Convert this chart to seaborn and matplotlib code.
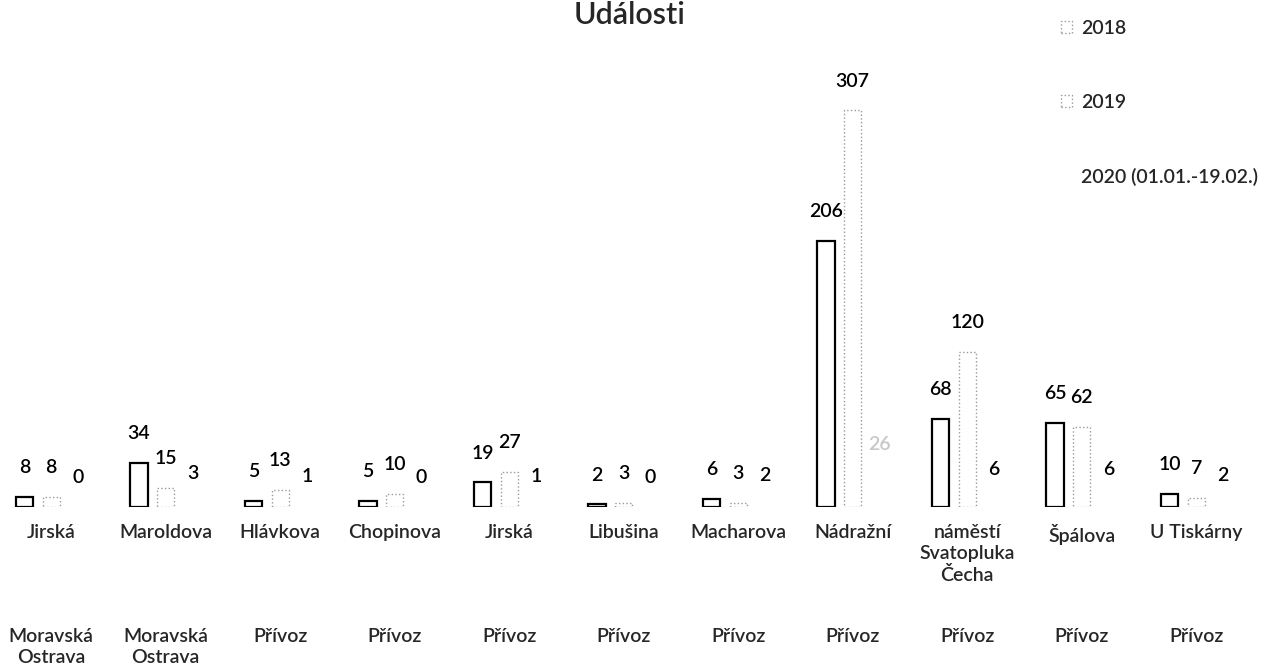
import matplotlib
matplotlib.use("Agg")
import matplotlib.pyplot as plt
from matplotlib.patches import Patch
import pandas as pd
import seaborn as sns

# data
ulice = ["Jirská", "Maroldova", "Hlávkova", "Chopinova", "Jirská", "Libušina",
         "Macharova", "Nádražní", "náměstí\nSvatopluka\nČecha", "Špálova", "U Tiskárny"]
oblast = ["Moravská\nOstrava", "Moravská\nOstrava", "Přívoz", "Přívoz", "Přívoz", "Přívoz",
          "Přívoz", "Přívoz", "Přívoz", "Přívoz", "Přívoz"]
roky = ["2018", "2019", "2020 (01.01.-19.02.)"]
v2018 = [8, 34, 5, 5, 19, 2, 6, 206, 68, 65, 10]
v2019 = [8, 15, 13, 10, 27, 3, 3, 307, 120, 62, 7]
v2020 = [0, 3, 1, 0, 1, 0, 2, 26, 6, 6, 2]   # Nádražní 2020 unreadable, estimated

rows = []
for rok, vals in zip(roky, [v2018, v2019, v2020]):
    for i, v in enumerate(vals):
        rows.append({"idx": i, "rok": rok, "pocet": v})
df = pd.DataFrame(rows)

sns.set_theme(style="white")
plt.rcParams["font.family"] = ["Lato", "DejaVu Sans"]
plt.rcParams["font.weight"] = "semibold"

FS = 14

fig = plt.figure(figsize=(12.74, 6.70), dpi=100)
ax = fig.add_axes([-6 / 1274, 163 / 670, 1259.5 / 1274, 447 / 670])

sns.barplot(data=df, x="idx", y="pocet", hue="rok", hue_order=roky,
            palette=["white", "white", "white"], width=0.7, gap=0.36,
            legend=False, ax=ax)

styles = [
    dict(edgecolor="black", linewidth=1.6, linestyle="-"),
    dict(edgecolor="#9a9a9a", linewidth=1.0, linestyle=":"),
    dict(edgecolor="white", linewidth=0.0, linestyle="-"),
]
for cont, st in zip(ax.containers, styles):
    for bar in cont:
        bar.set_edgecolor(st["edgecolor"])
        bar.set_linewidth(st["linewidth"])
        bar.set_linestyle(st["linestyle"])

for k, cont in enumerate(ax.containers):
    texts = ax.bar_label(cont, padding=15, fontsize=FS, color="black")
    if k == 2:
        texts[7].set_color("#c8c8c8")

ax.set_ylim(0, 346)
ax.set_xlim(-0.5, 10.5)
ax.set_ylabel("")
ax.set_xlabel("")
ax.set_yticks([])
ax.set_xticks(range(len(ulice)))
ax.set_xticklabels(ulice, fontsize=FS, linespacing=1.3)
ax.tick_params(axis="x", length=0, pad=12)
sns.despine(ax=ax, left=True, bottom=True)

for i, o in enumerate(oblast):
    ax.text(i, -121 / 447, o, transform=ax.get_xaxis_transform(),
            ha="center", va="top", fontsize=FS, linespacing=1.3)

fig.text(630 / 1274, 1 - 15 / 670, "Události", ha="center", va="center", fontsize=22)

handles = [
    Patch(facecolor="white", edgecolor="#9a9a9a", linestyle=":", linewidth=1.0),
    Patch(facecolor="white", edgecolor="#9a9a9a", linestyle=":", linewidth=1.0),
    Patch(facecolor="white", edgecolor="white", linewidth=0.0),
]
fig.legend(handles, roky, loc="upper left", bbox_to_anchor=(1051 / 1274, 1 - 10 / 670),
           frameon=False, fontsize=FS, labelspacing=2.95, handlelength=0.6,
           handleheight=0.6, handletextpad=0.45, borderpad=0)

fig.savefig("out.png", dpi=100)
